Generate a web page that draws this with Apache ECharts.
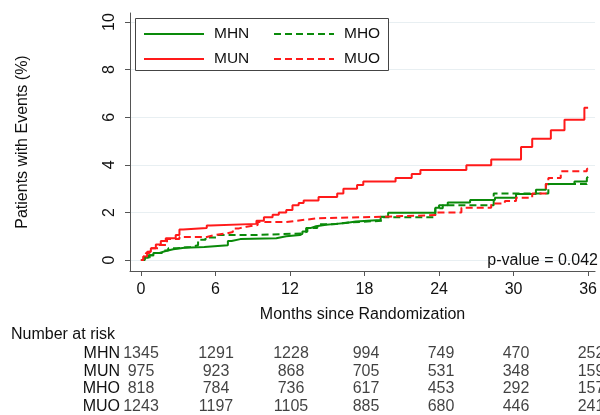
<!DOCTYPE html>
<html>
<head>
<meta charset="utf-8">
<script src="https://cdn.jsdelivr.net/npm/echarts@6/dist/echarts.min.js"></script>
<style>
html, body { margin: 0; padding: 0; background: #fff; }
#chart-km { width: 600px; height: 415px; }
</style>
</head>
<body>
<div id="chart-km"></div>
<script>
// cumulative event curves, [month, percent]
var mhn = [[0,0],[0.3,0.1],[0.6,0.2],[1.0,0.3],[1.5,0.38],[2.0,0.45],[2.6,0.52],[3.5,0.55],[5.1,0.62],[7.0,0.8],[7.3,0.88],[8.0,0.92],[10.9,1.0],[11.7,1.05],[12.8,1.1],[13.0,1.2],[13.3,1.35],[13.7,1.42],[14.1,1.48],[14.9,1.52],[15.7,1.56],[16.5,1.62],[17.3,1.68],[19.3,1.82],[19.9,1.99],[23.7,2.2],[24.0,2.3],[24.7,2.42],[26.5,2.52],[28.5,2.62],[30.2,2.78],[31.8,2.95],[32.6,3.2],[34.9,3.3],[35.9,3.45],[36,3.5]];
var mun = [[0,0],[0.2,0.15],[0.5,0.35],[0.8,0.5],[1.2,0.65],[1.6,0.8],[2.0,0.92],[2.8,1.05],[3.1,1.28],[3.4,1.35],[5.3,1.45],[5.6,1.52],[9.3,1.65],[9.9,1.8],[10.6,1.9],[11.1,2.0],[11.7,2.1],[12.2,2.3],[12.7,2.4],[13.1,2.5],[14.3,2.65],[15.8,2.8],[16.3,3.0],[17.4,3.15],[17.9,3.3],[20.5,3.45],[21.8,3.62],[22.5,3.78],[26.2,3.98],[28.2,4.22],[30.6,4.75],[31.5,5.1],[33.0,5.45],[34.1,5.9],[35.7,6.4],[36,6.4]];
var mho = [[0,0],[0.3,0.1],[0.7,0.2],[1.2,0.3],[1.7,0.4],[2.2,0.5],[2.9,0.55],[4.0,0.62],[4.6,0.85],[5.2,0.95],[6.2,1.05],[9.1,1.12],[13.0,1.2],[13.4,1.35],[14.2,1.5],[15.5,1.58],[16.7,1.65],[19.5,1.8],[23.7,2.18],[24.3,2.3],[28.4,2.8],[32.8,3.2],[35.9,3.28],[36,3.3]];
var muo = [[0,0],[0.2,0.15],[0.4,0.3],[0.7,0.5],[1.4,0.63],[2.1,0.88],[3.1,0.97],[5.3,1.05],[5.9,1.12],[6.9,1.18],[7.4,1.33],[7.9,1.4],[8.5,1.47],[9.4,1.6],[11.7,1.68],[13.0,1.76],[14.3,1.82],[19.4,1.89],[23.8,2.0],[25.8,2.2],[28.2,2.38],[29.3,2.48],[30.2,2.62],[31.5,2.8],[32.6,3.2],[32.8,3.45],[33.8,3.73],[35.9,3.82],[36,3.85]];

// number at risk table
var riskMonths = [0, 6, 12, 18, 24, 30, 36];
var riskGroups = ['MHN', 'MUN', 'MHO', 'MUO'];
var riskMHN = [1345, 1291, 1228, 994, 749, 470, 252];
var riskMUN = [975, 923, 868, 705, 531, 348, 159];
var riskMHO = [818, 784, 736, 617, 453, 292, 157];
var riskMUO = [1243, 1197, 1105, 885, 680, 446, 241];

var xTicks = [0, 6, 12, 18, 24, 30, 36];
var yTicks = [0, 2, 4, 6, 8, 10];

var green = '#0a8a0a';
var red = '#ff1a1a';
var txt = '#111';
var fs = 16;

var riskData = [];
[riskMHN, riskMUN, riskMHO, riskMUO].forEach(function (row, i) {
	row.forEach(function (n, j) {
		riskData.push([riskMonths[j], riskGroups[i], n]);
	});
});

function kmLine(name, data, color, dashed) {
	return {
		name: name,
		type: 'line',
		step: 'end',
		symbol: 'none',
		data: data,
		itemStyle: { color: color },
		lineStyle: { color: color, width: 2, type: dashed ? [7, 4] : 'solid' }
	};
}

var legendBase = {
	orient: 'vertical', top: 26, padding: 0,
	itemWidth: 60, itemHeight: 14, itemGap: 9,
	itemStyle: { opacity: 0 },
	textStyle: { fontSize: 15.5, color: txt, padding: [0, 0, 0, 5] }
};

var myChart = echarts.init(document.getElementById('chart-km'));
var option = {
	animation: false,
	textStyle: { fontFamily: 'Liberation Sans, Arial, sans-serif' },
	title: [
		{ text: 'Number at risk', left: 11, top: 327, padding: 0,
			textStyle: { fontSize: fs, fontWeight: 'normal', color: txt } },
		{ text: 'p-value = 0.042', right: 2, top: 253, padding: 0,
			textStyle: { fontSize: fs, fontWeight: 'normal', color: txt } }
	],
	graphic: [{
		type: 'rect', left: 135, top: 18, z: 3,
		shape: { width: 253, height: 52 },
		style: { fill: '#fff', stroke: '#444', lineWidth: 1 }
	}],
	legend: [
		echarts.util.extend({ data: ['MHN', 'MUN'], left: 143 }, legendBase),
		echarts.util.extend({ data: ['MHO', 'MUO'], left: 273 }, legendBase)
	],
	grid: [
		{ left: 130, right: 2, top: 13, bottom: 144 },
		{ left: 130, right: 2, top: 345, height: 73 }
	],
	xAxis: [
		{
			type: 'value', min: -0.88, max: 36.56,
			name: 'Months since Randomization', nameLocation: 'middle', nameGap: 36,
			nameTextStyle: { fontSize: fs, color: txt },
			axisLine: { onZero: false, lineStyle: { color: '#555' } },
			axisTick: { length: 5, customValues: xTicks, lineStyle: { color: '#555' } },
			axisLabel: { customValues: xTicks, fontSize: fs, color: txt, margin: 11 },
			splitLine: { show: false }
		},
		{ gridIndex: 1, type: 'value', min: -0.88, max: 36.56, show: false }
	],
	yAxis: [
		{
			type: 'value', min: -0.46, max: 10.38,
			name: 'Patients with Events (%)', nameLocation: 'middle', nameGap: 99,
			nameTextStyle: { fontSize: fs, color: txt },
			axisLine: { show: true, onZero: false, lineStyle: { color: '#555' } },
			axisTick: { show: true, length: 5, customValues: yTicks, lineStyle: { color: '#555' } },
			axisLabel: { customValues: yTicks, rotate: 90, fontSize: fs, color: txt, margin: 12 },
			splitLine: { show: true, lineStyle: { color: '#e8eff2', width: 1 } }
		},
		{
			gridIndex: 1, type: 'category', data: riskGroups, inverse: true,
			axisLine: { show: false }, axisTick: { show: false },
			axisLabel: { interval: 0, fontSize: fs, color: txt, margin: 10 },
			splitLine: { show: false }
		}
	],
	series: [
		kmLine('MHN', mhn, green, false),
		kmLine('MUN', mun, red, false),
		kmLine('MHO', mho, green, true),
		kmLine('MUO', muo, red, true),
		{
			type: 'scatter', xAxisIndex: 1, yAxisIndex: 1,
			symbolSize: 1, itemStyle: { color: 'rgba(0,0,0,0)' },
			data: riskData, silent: true,
			label: {
				show: true, position: 'inside', fontSize: fs, color: txt,
				formatter: function (p) { return p.value[2]; }
			}
		}
	]
};
myChart.setOption(option);

window.addEventListener('resize', function () {
	myChart.resize();
});
</script>
</body>
</html>
